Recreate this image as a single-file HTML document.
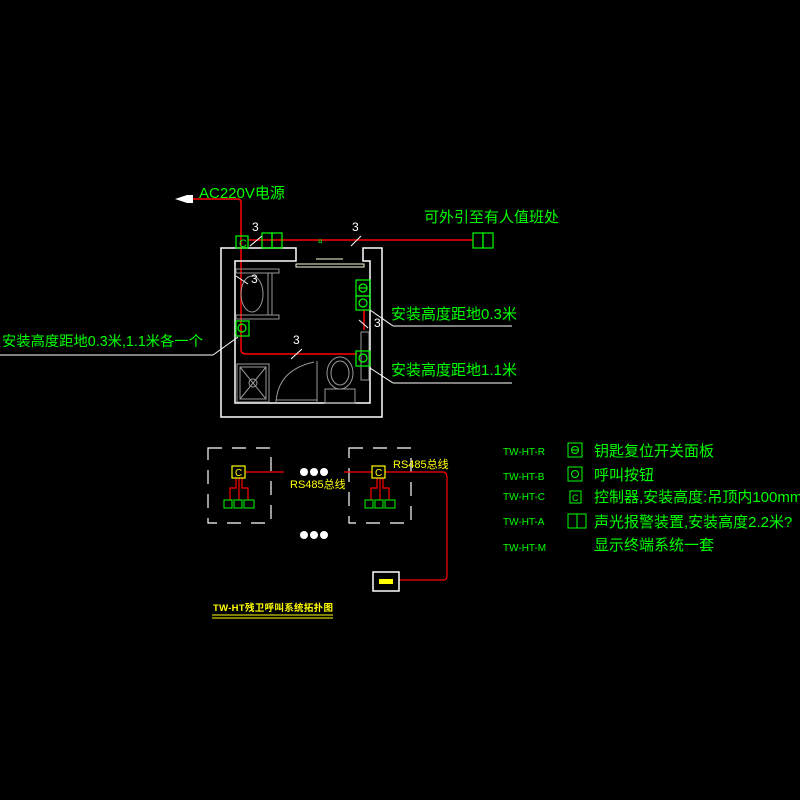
<!DOCTYPE html>
<html><head><meta charset="utf-8"><style>
html,body{margin:0;padding:0;background:#000;}
svg{display:block;}
text{font-family:"Liberation Sans","Noto Sans CJK SC",sans-serif;}
</style></head><body>
<svg width="800" height="800" viewBox="0 0 800 800" xmlns="http://www.w3.org/2000/svg">
<rect width="800" height="800" fill="#000"/>
<polygon points="175,199 187,195 193,195 193,203 187,203" fill="#fff"/>
<text x="199" y="198" fill="#0f0" font-size="15">AC220V电源</text>
<path d="M193,199 H238 Q241,199 241,203 V350 Q241,354 247,354 H357" stroke="#f00" stroke-width="1.5" fill="none"/>
<line x1="248" y1="240" x2="473" y2="240" stroke="#f00" stroke-width="1.5"/>
<line x1="364" y1="310" x2="364" y2="330" stroke="#f00" stroke-width="1.5"/>
<text x="424" y="222" fill="#0f0" font-size="15">可外引至有人值班处</text>
<g stroke="#fff" stroke-width="1.5" fill="none">
<path d="M296,248 H221 V417 H382 V248 H363 V261 H370 V403 H235 V261 H296 Z"/>
</g>
<g stroke="#999" stroke-width="1" fill="none">
<rect x="296" y="264" width="68" height="3" stroke="#ffd" />
<line x1="316" y1="259" x2="343" y2="259" stroke="#ffd"/>
<rect x="236" y="269" width="43" height="4"/>
<rect x="236" y="315" width="43" height="4"/>
<line x1="268" y1="273" x2="268" y2="315"/><line x1="272" y1="273" x2="272" y2="315"/>
<ellipse cx="252" cy="294" rx="11" ry="18"/>
<rect x="237" y="364" width="32" height="38"/>
<rect x="240" y="367" width="26" height="32"/>
<line x1="240" y1="367" x2="266" y2="399"/><line x1="266" y1="367" x2="240" y2="399"/>
<circle cx="253" cy="383" r="4"/>
<path d="M276,402 Q278,370 314,362 M317,361 V403 M276,400 H317"/>
<ellipse cx="340" cy="373" rx="13" ry="16"/>
<ellipse cx="340" cy="373" rx="9" ry="12"/>
<rect x="325" y="389" width="30" height="14"/>
<rect x="361" y="332" width="8" height="48"/>
</g>
<g stroke="#0f0" stroke-width="1.2" fill="none">
<rect x="236" y="236" width="12" height="12"/>
<rect x="262" y="233" width="10" height="15"/><rect x="272" y="233" width="10" height="15"/>
<rect x="473" y="233" width="10" height="15"/><rect x="483" y="233" width="10" height="15"/>
<rect x="356" y="280" width="14" height="16"/><line x1="359" y1="288" x2="367" y2="288"/><circle cx="363" cy="288" r="4"/>
<rect x="356" y="296" width="14" height="14"/><circle cx="363" cy="303" r="4"/>
<rect x="236" y="321" width="13" height="15"/><circle cx="242" cy="328" r="4"/>
<rect x="356" y="351" width="14" height="15"/><circle cx="363" cy="358" r="4"/>
</g>
<text x="239" y="247" fill="#0f0" font-size="11">C</text>
<text x="318" y="244" fill="#0f0" font-size="8">¤</text>
<g fill="#fff" font-size="12">
<text x="252" y="231">3</text><text x="352" y="231">3</text><text x="251" y="283">3</text><text x="293" y="344">3</text><text x="374" y="327">3</text>
</g>
<g stroke="#fff" stroke-width="1">
<line x1="250" y1="246" x2="262" y2="236"/><line x1="351" y1="246" x2="361" y2="236"/>
<line x1="291" y1="359" x2="302" y2="349"/>
<line x1="236" y1="276" x2="248" y2="284"/>
<line x1="359" y1="320" x2="368" y2="328"/>
<line x1="0" y1="355" x2="213" y2="355"/><line x1="213" y1="355" x2="238" y2="337"/>
<line x1="393" y1="326" x2="512" y2="326"/><line x1="393" y1="326" x2="370" y2="310"/>
<line x1="393" y1="383" x2="512" y2="383"/><line x1="393" y1="383" x2="370" y2="368"/>
</g>
<text x="2" y="346" fill="#0f0" font-size="14.3">安装高度距地0.3米,1.1米各一个</text>
<text x="391" y="319" fill="#0f0" font-size="15">安装高度距地0.3米</text>
<text x="391" y="375" fill="#0f0" font-size="15">安装高度距地1.1米</text>
<g stroke="#fff" stroke-width="1.2" stroke-dasharray="14,10" fill="none">
<rect x="208" y="448" width="63" height="75"/>
<rect x="349" y="448" width="62" height="75"/>
</g>
<g fill="#fff"><circle cx="304" cy="472" r="4"/><circle cx="314" cy="472" r="4"/><circle cx="324" cy="472" r="4"/>
<circle cx="304" cy="535" r="4"/><circle cx="314" cy="535" r="4"/><circle cx="324" cy="535" r="4"/></g>
<g stroke="#f00" stroke-width="1.2" fill="none">
<line x1="245" y1="472" x2="284" y2="472"/><line x1="344" y1="472" x2="372" y2="472"/>
<path d="M385,472 H443 Q447,472 447,478 V576 Q447,580 443,580 H399"/>
<path d="M236,478 V488 H230 V500 M239,478 V500 M242,478 V488 H248 V500"/>
<path d="M377,478 V488 H371 V500 M380,478 V500 M383,478 V488 H389 V500"/>
</g>
<g stroke="#ff0" stroke-width="1.2" fill="none"><rect x="232" y="466" width="13" height="12"/><rect x="372" y="466" width="13" height="12"/></g>
<text x="235" y="476" fill="#ff0" font-size="10">C</text><text x="375" y="476" fill="#ff0" font-size="10">C</text>
<g stroke="#0f0" stroke-width="1" fill="none">
<rect x="224" y="500" width="8" height="8"/><rect x="234" y="500" width="8" height="8"/><rect x="244" y="500" width="10" height="8"/>
<rect x="365" y="500" width="8" height="8"/><rect x="375" y="500" width="8" height="8"/><rect x="385" y="500" width="10" height="8"/>
</g>
<text x="290" y="488" fill="#ff0" font-size="11">RS485总线</text>
<text x="393" y="468" fill="#ff0" font-size="11">RS485总线</text>
<rect x="373" y="572" width="26" height="19" fill="none" stroke="#fff" stroke-width="1.5"/>
<rect x="379" y="579" width="14" height="5" fill="#ff0"/>
<text x="213" y="611" fill="#ff0" font-size="9.5" font-weight="bold" textLength="120">TW-HT残卫呼叫系统拓扑图</text>
<line x1="212" y1="615" x2="333" y2="615" stroke="#ff0"/><line x1="212" y1="618" x2="333" y2="618" stroke="#ff0"/>
<g fill="#0f0" font-size="10"><text x="503" y="455">TW-HT-R</text><text x="503" y="480">TW-HT-B</text><text x="503" y="500">TW-HT-C</text><text x="503" y="525">TW-HT-A</text><text x="503" y="551">TW-HT-M</text></g>
<g stroke="#0f0" stroke-width="1" fill="none">
<rect x="568" y="443" width="14" height="14"/><circle cx="575" cy="450" r="3.5"/><line x1="572" y1="450" x2="578" y2="450"/>
<rect x="568" y="467" width="14" height="14"/><circle cx="575" cy="474" r="3.5"/>
<rect x="570" y="491" width="11" height="12"/>
<rect x="568" y="514" width="18" height="14"/><line x1="577" y1="514" x2="577" y2="528"/>
</g>
<text x="572" y="501" fill="#0f0" font-size="9">C</text>
<g fill="#0f0" font-size="15"><text x="594" y="456">钥匙复位开关面板</text><text x="594" y="480">呼叫按钮</text><text x="594" y="502">控制器,安装高度:吊顶内100mm</text><text x="594" y="527">声光报警装置,安装高度2.2米?</text><text x="594" y="550">显示终端系统一套</text></g>
</svg>
</body></html>
